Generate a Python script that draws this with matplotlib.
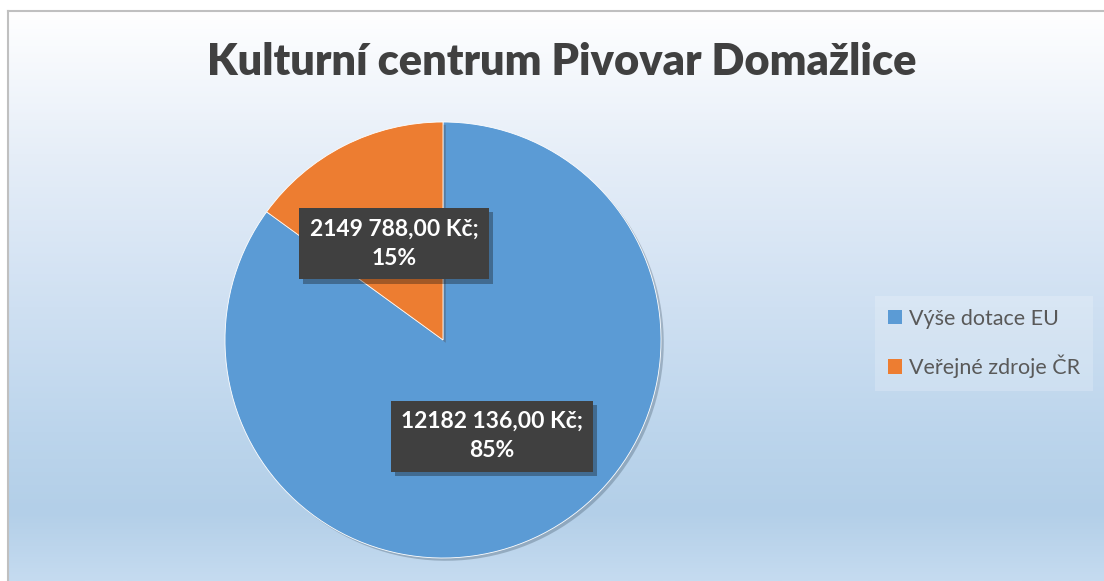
import numpy as np
import matplotlib
matplotlib.use("Agg")
import matplotlib.pyplot as plt
from matplotlib.colors import LinearSegmentedColormap
from matplotlib.patches import Patch
import matplotlib.patheffects as pe

title = "Kulturní centrum Pivovar Domažlice"
categories = ["Výše dotace EU", "Veřejné zdroje ČR"]
values = [12182136, 2149788]
colors = ["#5b9bd5", "#ed7d31"]

W, H = 1104, 581
fig = plt.figure(figsize=(W / 100, H / 100), dpi=100)
fig.patch.set_facecolor("white")

# background gradient inside chart area
bg = fig.add_axes([8 / W, 0, 1 - 8 / W, 1 - 11 / H], zorder=0)
bg.set_axis_off()
grad = LinearSegmentedColormap.from_list(
    "g",
    [(0.0, "#ffffff"), (0.25, "#e6eef8"), (0.52, "#cfe0f2"),
     (0.74, "#bcd5ec"), (0.88, "#b3cfe8"), (1.0, "#c5dbf0")])
bg.imshow(np.linspace(0, 1, 256).reshape(-1, 1), aspect="auto", cmap=grad,
          extent=[0, 1, 0, 1], origin="upper")
bg.set_xlim(0, 1)
bg.set_ylim(0, 1)

# border lines (top and left)
fig.add_artist(plt.Line2D([8 / W, 1], [1 - 11 / H, 1 - 11 / H],
                          transform=fig.transFigure, color="#c0c0c0", lw=1.5))
fig.add_artist(plt.Line2D([8 / W, 8 / W], [0, 1 - 11 / H],
                          transform=fig.transFigure, color="#c0c0c0", lw=1.5))

# title
fig.text(562 / W, 1 - 62 / H, title, ha="center", va="center",
         fontsize=31.2, fontweight="heavy", color="#404040", family="Lato")

# pie
cx, cy, r = 443, 340, 218
ax = fig.add_axes([(cx - r) / W, 1 - (cy + r) / H, 2 * r / W, 2 * r / H], zorder=2)
ax.set_axis_off()
total = sum(values)


def fmt(v):
    return f"{v // 1000} {v % 1000:03d},00 Kč;\n{round(v / total * 100):.0f}%"


wedges, _ = ax.pie(values, colors=colors, startangle=90, counterclock=False,
                   radius=1.0, wedgeprops=dict(linewidth=0.6, edgecolor="white"))
for w in wedges:
    w.set_path_effects([pe.SimplePatchShadow(offset=(2, -2), alpha=0.25), pe.Normal()])
ax.set_xlim(-1, 1)
ax.set_ylim(-1, 1)
ax.set_aspect("equal")

for w, v in zip(wedges, values):
    ang = np.deg2rad((w.theta1 + w.theta2) / 2)
    d = 0.495
    t = ax.text(d * np.cos(ang), d * np.sin(ang), fmt(v), ha="center", va="center",
                fontsize=16.5, fontweight="bold", color="white", family="Lato",
                linespacing=1.5,
                bbox=dict(boxstyle="square,pad=0.45", facecolor="#404040",
                          edgecolor="none"))
    t.get_bbox_patch().set_path_effects(
        [pe.SimplePatchShadow(offset=(3, -3), alpha=0.35), pe.Normal()])

# legend
handles = [Patch(facecolor=c, edgecolor="none") for c in colors]
leg = fig.legend(handles, categories, loc="upper left",
                 bbox_to_anchor=(864 / W, 1 - 285 / H), frameon=True,
                 prop=dict(family="Lato", size=15.5), labelcolor="#595959",
                 handlelength=0.65, handleheight=0.65, handletextpad=0.35,
                 labelspacing=1.2, borderpad=0.6, fancybox=False)
leg.get_frame().set_facecolor("#ffffff")
leg.get_frame().set_alpha(0.2)
leg.get_frame().set_edgecolor("none")

fig.savefig("out.png", dpi=100)
